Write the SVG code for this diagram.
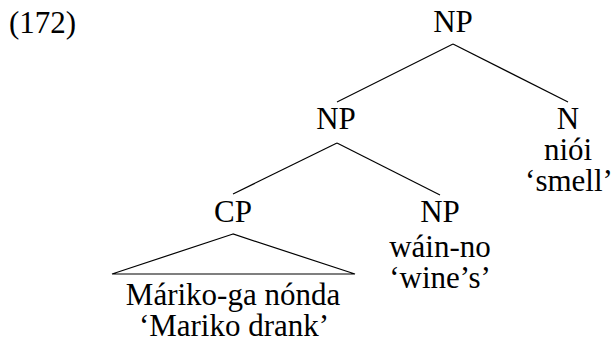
<svg xmlns="http://www.w3.org/2000/svg" width="613" height="347" viewBox="0 0 613 347">
<style>
text { font-size: 31px; fill: #000; text-anchor: middle; }
.edge { stroke: #000; stroke-width: 1.2; fill: none; }
</style>
<rect width="613" height="347" fill="#fff"/>
<g font-family="'Liberation Serif', 'Times New Roman', 'DejaVu Serif', serif">
<text x="9" y="33" style="text-anchor:start">(172)</text>
<g id="connectors">
<line class="edge" x1="453" y1="44" x2="337" y2="102"/>
<line class="edge" x1="453" y1="44" x2="568" y2="102"/>
<line class="edge" x1="337" y1="143" x2="233" y2="194"/>
<line class="edge" x1="337" y1="143" x2="440" y2="195"/>
</g>
<g id="np-root"><text x="453" y="32">NP</text></g>
<g id="np-mid"><text x="336" y="129">NP</text></g>
<g id="n"><text x="568" y="129">N</text><text x="568" y="160">niói</text><text x="569" y="191">‘smell’</text></g>
<g id="cp">
<text x="233" y="222">CP</text>
<polygon class="edge" points="233,234 112,274 355,274"/>
<text x="233" y="305">Máriko-ga nónda</text>
<text x="234" y="336">‘Mariko drank’</text>
</g>
<g id="np-low"><text x="440" y="222">NP</text><text x="440" y="257">wáin-no</text><text x="440" y="288">‘wine’s’</text></g>
</g>
</svg>
